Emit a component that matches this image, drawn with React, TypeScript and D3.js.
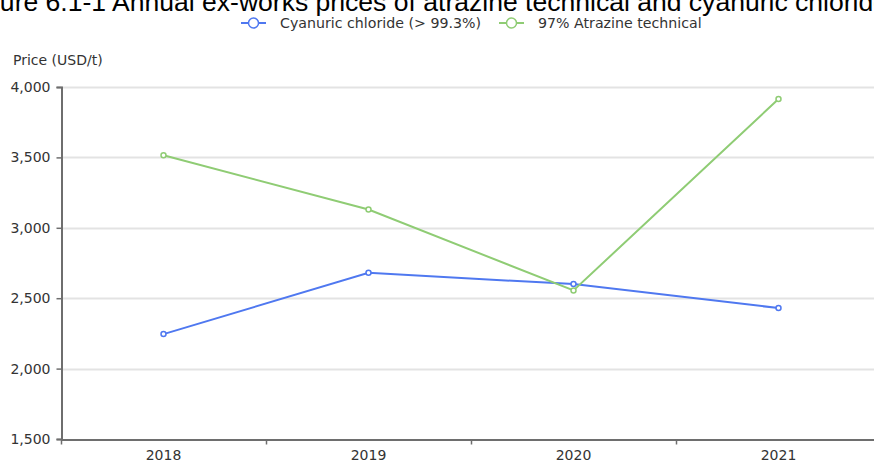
import { useEffect, useRef } from 'react';
import * as d3 from 'd3';

// Chart data
const YEARS = ['2018', '2019', '2020', '2021'];
const CYANURIC = [2245, 2680, 2600, 2430];
const ATRAZINE = [3515, 3130, 2555, 3915];
const Y_TICKS = [1500, 2000, 2500, 3000, 3500, 4000];

const SERIES = [
  { name: 'Cyanuric chloride (> 99.3%)', values: CYANURIC, colour: '#4f78f0' },
  { name: '97% Atrazine technical', values: ATRAZINE, colour: '#8fcc74' },
];

const W = 874;
const H = 463;
const PAD = { left: 61, top: 87, bottom: 439 };
const BAND = 205;
const UI_FONT = '"DejaVu Sans", sans-serif';

export default function App() {
  const svgRef = useRef<SVGSVGElement>(null);

  useEffect(() => {
    if (!svgRef.current) return;
    const svg = d3.select(svgRef.current);
    svg.selectAll('*').remove();

    const x = d3.scaleBand().domain(YEARS).range([PAD.left, PAD.left + BAND * YEARS.length]);
    const y = d3.scaleLinear().domain([1500, 4000]).range([PAD.bottom, PAD.top]);
    const cx = (d: string) => (x(d) ?? 0) + x.bandwidth() / 2;

    // Title (clipped at the top and sides in the original)
    svg.append('text')
      .attr('x', -37)
      .attr('y', 11)
      .attr('font-family', 'Arial, "Liberation Sans", sans-serif')
      .attr('font-size', 25)
      .attr('textLength', 925)
      .attr('lengthAdjust', 'spacingAndGlyphs')
      .attr('fill', '#000')
      .text('Figure 6.1-1 Annual ex-works prices of atrazine technical and cyanuric chloride');

    // Grid lines
    svg.append('g')
      .selectAll('line')
      .data(Y_TICKS.slice(1))
      .join('line')
      .attr('x1', PAD.left)
      .attr('x2', W)
      .attr('y1', (d) => Math.round(y(d)) + 0.5)
      .attr('y2', (d) => Math.round(y(d)) + 0.5)
      .attr('stroke', '#e3e3e3')
      .attr('stroke-width', 2);

    // Y axis
    const yAxis = svg.append('g')
      .attr('transform', `translate(${PAD.left + 0.5},0)`)
      .call(d3.axisLeft(y).tickValues(Y_TICKS).tickFormat(d3.format(',')).tickSize(5).tickPadding(6));
    yAxis.select('.domain').attr('stroke', '#6e6e6e').attr('stroke-width', 2);
    yAxis.selectAll('.tick line').attr('stroke', '#6e6e6e').attr('stroke-width', 1.5);
    yAxis.selectAll('.tick text')
      .attr('fill', '#333')
      .attr('font-size', 14)
      .attr('font-family', UI_FONT);

    // X axis
    const xAxis = svg.append('g')
      .attr('transform', `translate(0,${PAD.bottom + 0.5})`)
      .call(d3.axisBottom(x).tickSize(0).tickPadding(11));
    xAxis.select('.domain').attr('stroke', '#6e6e6e').attr('stroke-width', 2);
    xAxis.selectAll('.tick text')
      .attr('fill', '#333')
      .attr('font-size', 14)
      .attr('font-family', UI_FONT);
    // band boundary ticks
    xAxis.append('g')
      .selectAll('line')
      .data(YEARS)
      .join('line')
      .attr('x1', (d) => (x(d) ?? 0) + 0.5)
      .attr('x2', (d) => (x(d) ?? 0) + 0.5)
      .attr('y1', 0)
      .attr('y2', 5)
      .attr('stroke', '#6e6e6e')
      .attr('stroke-width', 1.5);

    // Y axis name
    svg.append('text')
      .attr('x', 13)
      .attr('y', 65)
      .attr('font-family', UI_FONT)
      .attr('font-size', 14)
      .attr('fill', '#333')
      .text('Price (USD/t)');

    // Lines + points
    const line = d3.line<number>()
      .x((_, i) => cx(YEARS[i]))
      .y((d) => y(d));

    SERIES.forEach((s) => {
      svg.append('path')
        .datum(s.values)
        .attr('d', line)
        .attr('fill', 'none')
        .attr('stroke', s.colour)
        .attr('stroke-width', 2);
      svg.append('g')
        .selectAll('circle')
        .data(s.values)
        .join('circle')
        .attr('cx', (_, i) => cx(YEARS[i]))
        .attr('cy', (d) => y(d))
        .attr('r', 2.5)
        .attr('fill', '#fff')
        .attr('stroke', s.colour)
        .attr('stroke-width', 1.5);
    });

    // Legend
    const legendX = [241, 499];
    SERIES.forEach((s, i) => {
      const g = svg.append('g').attr('transform', `translate(${legendX[i]},23)`);
      g.append('line')
        .attr('x1', 0)
        .attr('x2', 25)
        .attr('y1', 0)
        .attr('y2', 0)
        .attr('stroke', s.colour)
        .attr('stroke-width', 2);
      g.append('circle')
        .attr('cx', 12.5)
        .attr('cy', 0)
        .attr('r', 5)
        .attr('fill', '#fff')
        .attr('stroke', s.colour)
        .attr('stroke-width', 1.5);
      g.append('text')
        .attr('x', 39)
        .attr('y', 5)
        .attr('font-family', UI_FONT)
        .attr('font-size', 14.2)
        .attr('fill', '#333')
        .text(s.name);
    });
  }, []);

  return (
    <svg
      ref={svgRef}
      width={W}
      height={H}
      style={{ position: 'absolute', left: 0, top: 0, background: '#fff' }}
    />
  );
}
